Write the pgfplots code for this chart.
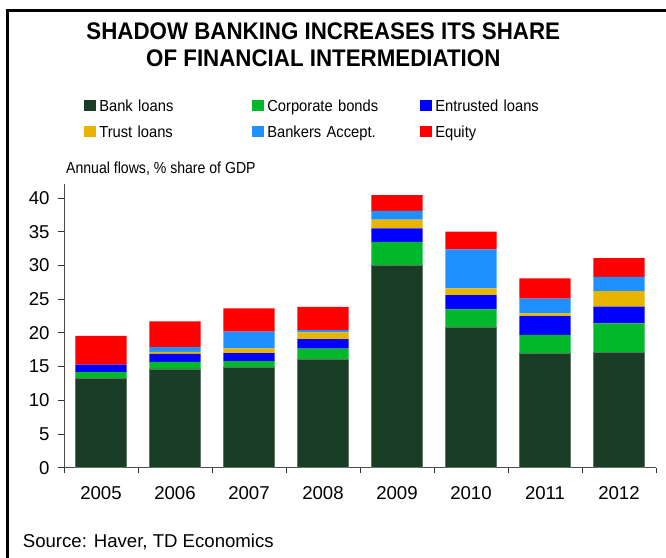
\documentclass[border=0pt]{standalone}
\usepackage{pgfplots}
\pgfplotsset{compat=1.18}
\usepackage{pgfplotstable}
\usepackage{fontspec}
\setmainfont{Liberation Sans}
\newfontfamily\titlefont{Liberation Sans}[FakeStretch=0.93]
\newfontfamily\legfont{Liberation Sans}[FakeStretch=0.92]
\newfontfamily\annfont{Liberation Sans}[FakeStretch=0.88]
\definecolor{cBank}{RGB}{26,61,38}
\definecolor{cCorp}{RGB}{0,184,42}
\definecolor{cEntr}{RGB}{0,0,255}
\definecolor{cTrust}{RGB}{232,180,0}
\definecolor{cBA}{RGB}{30,144,255}
\definecolor{cEq}{RGB}{255,0,0}
\pgfplotstableread{
x bank corp entr trust bankers equity
0 13.2 1.0 1.1 0 0 4.25
1 14.65 1.05 1.2 0.3 0.7 3.8
2 14.9 0.9 1.2 0.7 2.5 3.45
3 16.0 1.67 1.4 1.0 0.35 3.46
4 30.05 3.45 2.0 1.3 1.3 2.35
5 20.8 2.7 2.1 1.0 5.8 2.65
6 16.9 2.8 2.8 0.4 2.2 3.0
7 17.1 4.3 2.5 2.3 2.1 2.8
}\datatable
\begin{document}
\begin{tikzpicture}
\begin{axis}[
  at={(0bp,0bp)}, anchor=south west,
  scale only axis, width=592bp, height=283.7bp,
  ybar stacked, bar width=0.695,
  xmin=-0.5, xmax=7.5, ymin=0, ymax=42.1,
  axis x line=bottom, axis y line=left,
  axis line style={-, black!70, line width=0.9bp},
  xtick={0,...,7},
  xticklabels={2005,2006,2007,2008,2009,2010,2011,2012},
  minor xtick={-0.5,0.5,...,7.5},
  ytick={0,5,...,40},
  tick align=outside,
  major tick length=6bp, minor tick length=5bp,
  major x tick style={draw=none},
  tick style={black!80, line width=0.9bp},
  /pgf/number format/assume math mode=true,
  tick label style={font=\fontsize{18.6bp}{21bp}\selectfont},
  xticklabel style={yshift=-9bp},
  yticklabel style={xshift=-5bp},
  legend columns=3,
  legend cell align=left,
  legend style={at={(0.0343,1.296)}, anchor=north west, draw=none, fill=none,
    inner sep=0pt, outer sep=0pt,
    row sep=14.5bp,
    font=\legfont\fontsize{16bp}{19bp}\selectfont,
    nodes={inner sep=0pt, text height=11.5bp, text depth=0pt, text width=153bp},
    /tikz/every odd column/.append style={column sep=3.6bp}},
  legend image code/.code={\fill[#1,draw=none] (0bp,-5.7bp) rectangle (11.4bp,5.7bp);},
]
\addplot[fill=cBank, draw={rgb,255:red,95;green,115;blue,100}, line width=0.8bp] table[x=x,y=bank]{\datatable};
\addplot[fill=cCorp, draw=none] table[x=x,y=corp]{\datatable};
\addplot[fill=cEntr, draw=none] table[x=x,y=entr]{\datatable};
\addplot[fill=cTrust, draw=none] table[x=x,y=trust]{\datatable};
\addplot[fill=cBA, draw=none] table[x=x,y=bankers]{\datatable};
\addplot[fill=cEq, draw=none] table[x=x,y=equity]{\datatable};
\legend{Bank loans,Corporate bonds,Entrusted loans,Trust loans,Bankers Accept.,Equity}
\end{axis}
\begin{scope}[shift={(-64bp,-90.3bp)}]
\draw[line width=2.7bp,line join=miter] (7.3bp,0bp) -- (7.3bp,547.3bp) -- (666bp,547.3bp);
\node[anchor=base,inner sep=0pt,font=\titlefont\fontsize{24bp}{27bp}\selectfont\bfseries] at (323.3bp,518bp) {SHADOW BANKING INCREASES ITS SHARE};
\node[anchor=base,inner sep=0pt,font=\titlefont\fontsize{24bp}{27bp}\selectfont\bfseries] at (323.3bp,491.3bp) {OF FINANCIAL INTERMEDIATION};
\node[anchor=west,inner sep=0pt,font=\annfont\fontsize{16bp}{19bp}\selectfont] at (66bp,389bp) {Annual flows, \% share of GDP};
\node[anchor=west,inner sep=0pt,font=\fontsize{18.6bp}{21bp}\selectfont] at (22.7bp,16.5bp) {Source: Haver, TD Economics};
\pgfresetboundingbox
\useasboundingbox (0bp,0bp) rectangle (666bp,558bp);
\end{scope}
\end{tikzpicture}
\end{document}
